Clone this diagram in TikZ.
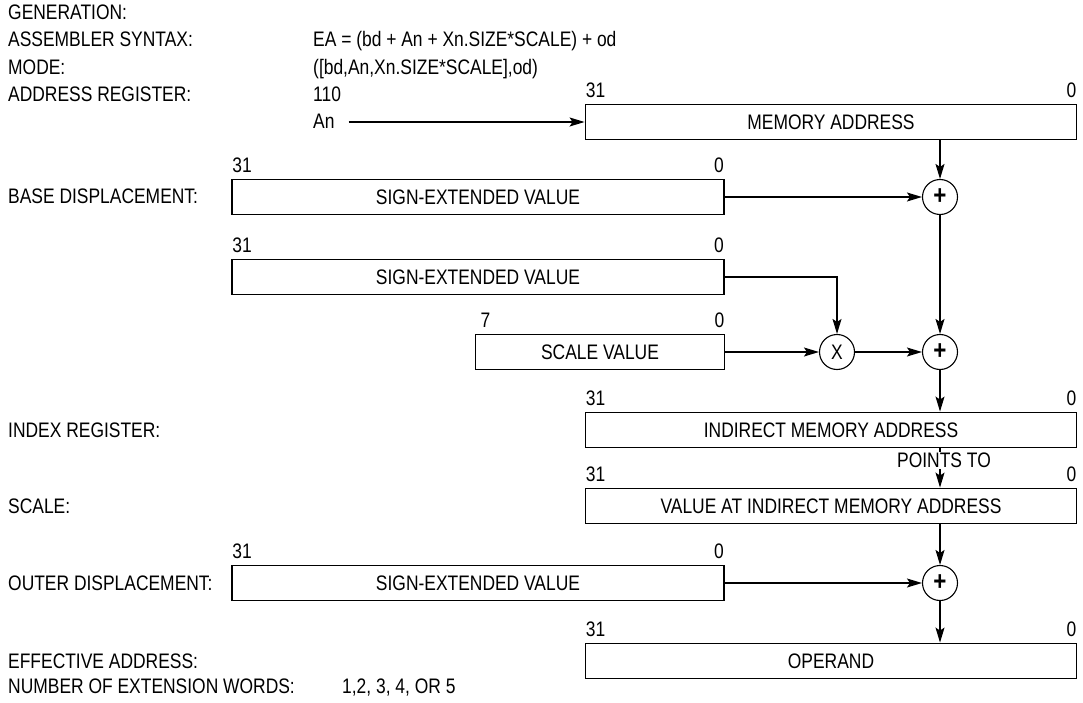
\documentclass[tikz,border=0pt]{standalone}
\usepackage{fontspec}
\setmainfont{Liberation Sans}[FakeStretch=0.83]
\usetikzlibrary{arrows.meta}
\begin{document}
\begin{tikzpicture}[x=1pt,y=-1pt,
  every node/.style={font=\fontsize{21}{25}\selectfont, inner sep=0pt},
  lbl/.style={anchor=base west},
  bit/.style={anchor=base},
  reg/.style={draw, line width=1.9pt, minimum height=35pt},
  op/.style={draw, circle, line width=1.1pt, minimum size=35pt},
  conn/.style={line width=1.2pt, -{Stealth[length=15pt,width=9pt,inset=3pt]}},
  plain/.style={line width=1.2pt}]
\useasboundingbox (0,0) rectangle (1083,703);

% left column labels
\node[lbl] (l1) at (8,20) {GENERATION:};
\node[lbl] (l2) at (8,47) {ASSEMBLER SYNTAX:};
\node[lbl] (l3) at (8,75) {MODE:};
\node[lbl] (l4) at (8,102) {ADDRESS REGISTER:};
\node[lbl] (l5) at (8,204) {BASE DISPLACEMENT:};
\node[lbl] (l6) at (8,437) {INDEX REGISTER:};
\node[lbl] (l7) at (8,513) {SCALE:};
\node[lbl] (l8) at (8,590) {OUTER DISPLACEMENT:};
\node[lbl] (l9) at (8,668) {EFFECTIVE ADDRESS:};
\node[lbl] (l10) at (8,693) {NUMBER OF EXTENSION WORDS:};

% right column values
\node[lbl] (v2) at (313,47) {EA = (bd + An + Xn.SIZE*SCALE) + od};
\node[lbl] (v3) at (313,75) {([bd,An,Xn.SIZE*SCALE],od)};
\node[lbl] (v4) at (313,102) {110};
\node[lbl] (an) at (313,129) {An};
\node[lbl] (v10) at (342,693) {1,2, 3, 4, OR 5};

% registers
\node[reg, minimum width=491pt] (mem) at (831,122) {MEMORY ADDRESS};
\node[reg, minimum width=492pt] (bd)  at (478,197) {SIGN-EXTENDED VALUE};
\node[reg, minimum width=492pt] (idx) at (478,277) {SIGN-EXTENDED VALUE};
\node[reg, minimum width=249pt] (sc)  at (600,352) {SCALE VALUE};
\node[reg, minimum width=491pt] (ind) at (831,430) {INDIRECT MEMORY ADDRESS};
\node[reg, minimum width=491pt] (val) at (831,506) {VALUE AT INDIRECT MEMORY ADDRESS};
\node[reg, minimum width=492pt] (od)  at (478,583) {SIGN-EXTENDED VALUE};
\node[reg, minimum width=491pt] (opd) at (831,661) {OPERAND};

% bit numbers
\foreach \r/\hi in {mem/31,bd/31,idx/31,sc/7,ind/31,val/31,od/31,opd/31}{
  \node[bit] (\r-hi) at ([xshift=11pt,yshift=6pt]\r.north west) {\hi};
  \node[bit] (\r-lo) at ([xshift=-6pt,yshift=6pt]\r.north east) {0};
}

% operators
\node[op, font=\fontsize{27}{27}\selectfont\bfseries] (p1) at (940,197) {+};
\node[op, font=\fontsize{27}{27}\selectfont\bfseries] (p2) at (940,352) {+};
\node[op] (mx) at (837,352) {X};
\node[op, font=\fontsize{27}{27}\selectfont\bfseries] (p3) at (940,583) {+};

% connectors
\draw[conn] ([xshift=14pt]an.east |- mem.west) -- (mem.west);
\draw[conn] (p1.north |- mem.south) -- (p1.north);
\draw[conn] (bd.east) -- (p1.west);
\draw[conn] (idx.east) -| (mx.north);
\draw[conn] (sc.east) -- (mx.west);
\draw[conn] (mx.east) -- (p2.west);
\draw[conn] (p1.south) -- (p2.north);
\draw[conn] (p2.south) -- (p2.south |- ind.north);
\draw[conn] (p2.south |- ind.south) -- (p2.south |- val.north)
  node[pos=0.3, fill=white, inner sep=1pt, xshift=4pt] (pt) {POINTS TO};
\draw[conn] (p3.north |- val.south) -- (p3.north);
\draw[conn] (od.east) -- (p3.west);
\draw[conn] (p3.south) -- (p3.south |- opd.north);
\end{tikzpicture}
\end{document}
